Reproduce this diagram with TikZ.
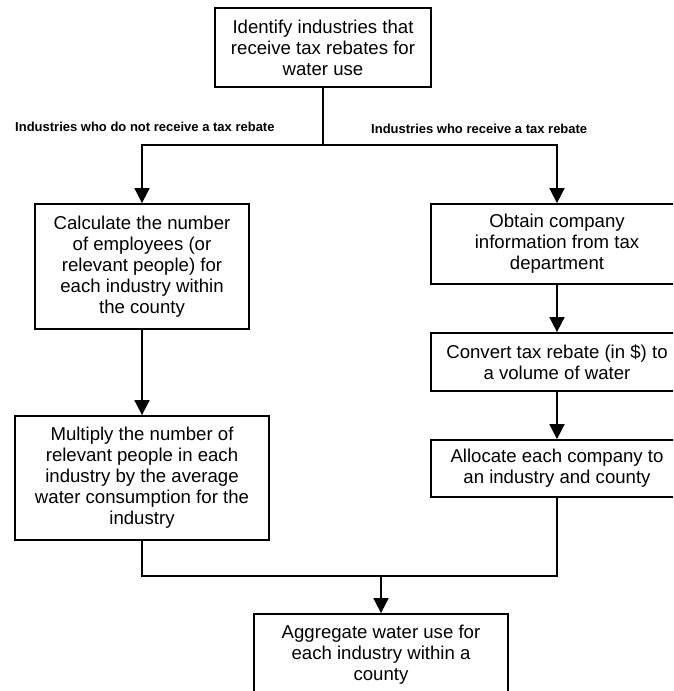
\documentclass[tikz,border=0pt]{standalone}
\usepackage{fontspec}
\setmainfont{Liberation Sans}
\usetikzlibrary{arrows.meta}
\begin{document}
\begin{tikzpicture}[x=1pt,y=-1pt,
  box/.style={draw,line width=1.8pt,rectangle,inner sep=0pt,align=center,
    font=\fontsize{18.6}{21}\selectfont},
  lbl/.style={inner sep=0pt,anchor=west,font=\fontsize{13}{15}\bfseries\selectfont},
  line/.style={line width=1.8pt},
  arrow/.style={line width=1.8pt,-{Triangle[length=15pt,width=15pt]}}]
\useasboundingbox (0,0) rectangle (673,691);
\clip (0,0) rectangle (673,691);
\node[box,minimum width=216pt,minimum height=79pt] (top) at (323,47.5)
  {Identify industries that\\receive tax rebates for\\water use};
\coordinate (split) at (323,145);
\node[lbl] (lneg) at (15,127) {Industries who do not receive a tax rebate};
\node[lbl] (lpos) at (371,129) {Industries who receive a tax rebate};
\node[box,minimum width=214pt,minimum height=125pt] (calc) at (142,266.5)
  {Calculate the number\\of employees (or\\relevant people) for\\each industry within\\the county};
\node[box,minimum width=254pt,minimum height=124pt] (mult) at (142,478)
  {Multiply the number of\\relevant people in each\\industry by the average\\water consumption for the\\industry};
\node[box,minimum width=252pt,minimum height=80pt] (obtain) at (557,244)
  {Obtain company\\information from tax\\department};
\node[box,minimum width=252pt,minimum height=58pt] (conv) at (557,362)
  {Convert tax rebate (in \$) to\\a volume of water};
\node[box,minimum width=254pt,minimum height=82pt] (agg) at (381,655)
  {Aggregate water use for\\each industry within a\\county};
\node[box,minimum width=252pt,minimum height=57pt] (alloc) at (557,468.5)
  {Allocate each company to\\an industry and county};
\coordinate (merge) at (381,576);
\draw[line] (top.south) -- (split);
\draw[arrow] (split) -| (calc.north);
\draw[arrow] (split) -| (obtain.north);
\draw[arrow] (calc.south) -- (mult.north);
\draw[arrow] (obtain.south) -- (conv.north);
\draw[arrow] (conv.south) -- (alloc.north);
\draw[line] (mult.south) |- (merge);
\draw[line] (alloc.south) |- (merge);
\draw[arrow] (merge) -- (agg.north);
\end{tikzpicture}
\end{document}
